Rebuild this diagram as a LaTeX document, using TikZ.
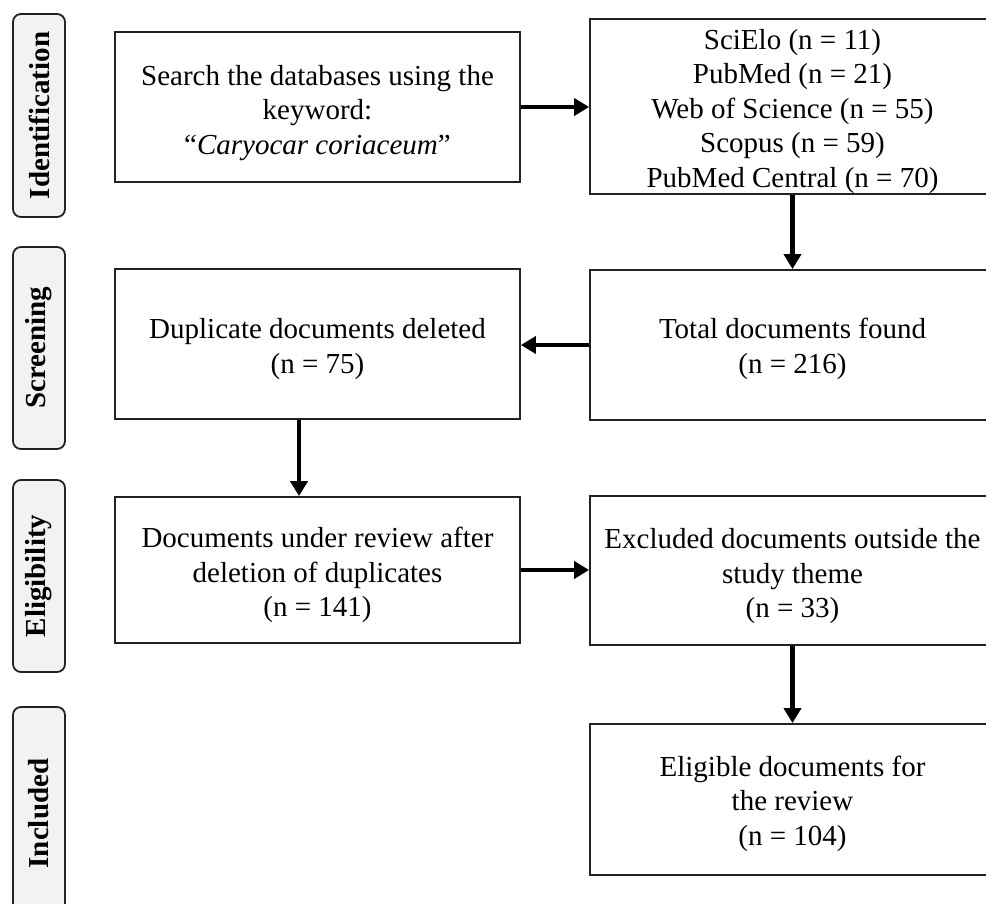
\documentclass[tikz,border=0pt]{standalone}
\usepackage{fontspec}
\setmainfont{Liberation Serif}
\usetikzlibrary{arrows.meta}
\definecolor{labfill}{HTML}{F2F2F2}
\definecolor{edge}{HTML}{222222}
\tikzset{
  boxnode/.style={draw=edge, line width=1.8pt, rectangle, inner sep=0pt,
    minimum width=405pt},
  boxtext/.style={align=center, inner sep=0pt, font=\fontsize{29}{34.5}\selectfont},
  stagelab/.style={draw=edge, line width=1.8pt, fill=labfill, rounded corners=8pt, rotate=90,
    minimum height=52pt, inner sep=0pt, font=\fontsize{29}{34.5}\selectfont\bfseries},
  flowarrow/.style={line width=4.5pt, -{Triangle[length=15pt,width=17pt]}}
}
\begin{document}
\begin{tikzpicture}[x=1pt,y=-1pt]
\useasboundingbox (0,0) rectangle (986,904);
\clip (0,0) rectangle (986,904);
% stage labels
\node[stagelab, minimum width=203pt] (sid) at (39,115.5) {Identification};
\node[stagelab, minimum width=202pt] (ssc) at (39,348) {Screening};
\node[stagelab, minimum width=192pt] (sel) at (39,576) {Eligibility};
\node[stagelab, minimum width=213pt] (sin) at (39,813.5) {Included};
% boxes
\node[boxnode, minimum height=150pt] (b1) at (317.5,107) {};
\node[boxnode, minimum height=175pt] (b2) at (792.5,106.5) {};
\node[boxnode, minimum height=150pt] (b3) at (792.5,345) {};
\node[boxnode, minimum height=150pt] (b4) at (317.5,344) {};
\node[boxnode, minimum height=146pt] (b5) at (317.5,570) {};
\node[boxnode, minimum height=149pt] (b6) at (792.5,570.5) {};
\node[boxnode, minimum height=151pt] (b7) at (792.5,799.5) {};
% texts
\node[boxtext] (t1) at ([yshift=-6pt]b1.center) {Search the databases using the\\keyword:\\“\textit{Caryocar coriaceum}”};
\node[boxtext] (t2) at ([yshift=-5pt]b2.center) {SciElo (n = 11)\\PubMed (n = 21)\\Web of Science (n = 55)\\Scopus (n = 59)\\PubMed Central (n = 70)};
\node[boxtext] (t3) at ([yshift=-4pt]b3.center) {Total documents found\\(n = 216)};
\node[boxtext] (t4) at ([yshift=-5pt]b4.center) {Duplicate documents deleted\\(n = 75)};
\node[boxtext] (t5) at ([yshift=-5pt]b5.center) {Documents under review after\\deletion of duplicates\\(n = 141)};
\node[boxtext] (t6) at ([yshift=-6pt]b6.center) {Excluded documents outside the\\study theme\\(n = 33)};
\node[boxtext] (t7) at ([yshift=-4pt]b7.center) {Eligible documents for\\the review\\(n = 104)};
% arrows
\draw[flowarrow] (b1.east) -- (b2.west |- b1.east);
\draw[flowarrow] (b2.south) -- (b3.north);
\draw[flowarrow] (b3.west) -- (b4.east |- b3.west);
\draw[flowarrow] ([xshift=-18.5pt]b4.south) -- ([xshift=-18.5pt]b5.north);
\draw[flowarrow] (b5.east) -- (b6.west |- b5.east);
\draw[flowarrow] (b6.south) -- (b7.north);
\end{tikzpicture}
\end{document}
